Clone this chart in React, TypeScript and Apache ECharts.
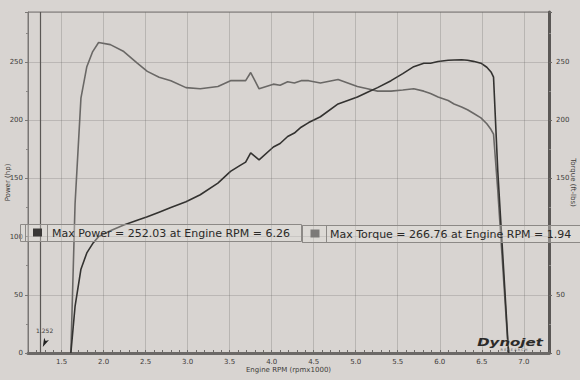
import React, { useEffect, useRef } from "react";
import * as echarts from "echarts";

// Engine RPM (x1000)
const rpm = [
  1.61, 1.66, 1.73, 1.8, 1.87, 1.94, 2.08, 2.24, 2.4, 2.52, 2.66, 2.8, 2.98, 3.15, 3.36, 3.51, 3.62,
  3.69, 3.75, 3.8, 3.85, 4.02, 4.1, 4.19, 4.27, 4.35, 4.44, 4.58, 4.79, 5.02, 5.14, 5.26, 5.42, 5.56,
  5.69, 5.81, 5.89, 5.98, 6.1, 6.17, 6.26, 6.33, 6.4, 6.49, 6.56, 6.61, 6.64, 6.69, 6.81, 6.82,
];
// Power (hp)
const powerHp = [
  0, 40, 72, 86, 94, 100, 105, 110, 114, 117, 121, 125, 130, 136, 146, 156, 161,
  164, 172, 169, 166, 177, 180, 186, 189, 194, 198, 203, 214, 220, 224, 228, 234, 240,
  246, 249, 249, 250.5, 251.5, 251.8, 252.03, 251.6, 250.6, 249, 245.5, 241.5, 237, 157, 11, 0,
];
// Torque (ft-lbs)
const torqueFtLb = [
  0, 128, 219, 246, 259, 266.76, 265, 259, 249, 242, 237, 234, 228, 227, 229, 234, 234,
  234, 241, 234, 227, 231, 230, 233, 232, 234, 234, 232, 235, 229, 227, 225, 225, 226,
  227, 225, 223, 220, 217, 214, 211.4, 209, 206, 202, 197, 192, 188, 140, 8, 0,
];
const xTickLabels = [1.5, 2.0, 2.5, 3.0, 3.5, 4.0, 4.5, 5.0, 5.5, 6.0, 6.5, 7.0];
const cursorRpm = 1.252;
const maxPowerText = "Max Power = 252.03 at Engine RPM = 6.26";
const maxTorqueText = "Max Torque = 266.76 at Engine RPM = 1.94";
// right-axis tick hidden behind the torque legend box in the reference
const hiddenRightTicks = [100];

export default function App() {
  const ref = useRef<HTMLDivElement>(null);
  useEffect(() => {
    if (!ref.current) return;
    const chart = echarts.init(ref.current, undefined, { renderer: "svg" });
    const font = "DejaVu Sans";
    const labelColor = "#3e3c3a";
    const isHalf = (v: number) => Math.abs(v * 2 - Math.round(v * 2)) < 1e-6;
    chart.setOption({
      animation: false,
      backgroundColor: "#d8d4d1",
      textStyle: { fontFamily: font },
      grid: {
        left: 28,
        right: 31,
        top: 12,
        bottom: 27,
        containLabel: false,
        outerBoundsMode: "none",
        show: true,
        borderColor: "#7a7775",
        borderWidth: 1,
        backgroundColor: "transparent",
      },
      xAxis: {
        type: "value",
        min: 1.1,
        max: 7.3,
        interval: 0.1,
        axisLine: { show: true, onZero: false, lineStyle: { color: "#6c6967", width: 3 } },
        axisTick: { show: true, inside: true, length: 3, lineStyle: { color: "#6c6967" } },
        axisLabel: {
          fontSize: 7,
          color: labelColor,
          margin: 5,
          formatter: (v: number) => (isHalf(v) ? v.toFixed(1) : ""),
        },
        splitLine: { show: false },
        name: "Engine RPM (rpmx1000)",
        nameLocation: "middle",
        nameGap: 13,
        nameMoveOverlap: false,
        nameTextStyle: { fontSize: 7, color: labelColor },
      },
      yAxis: [
        {
          type: "value",
          min: 0,
          max: 293,
          interval: 50,
          position: "left",
          axisLine: { show: true, lineStyle: { color: "#7a7775", width: 1 } },
          axisTick: { show: true, inside: false, length: 3, lineStyle: { color: "#7a7775" } },
          minorTick: { show: true, splitNumber: 2, length: 2, lineStyle: { color: "#8a8785" } },
          axisLabel: { fontSize: 7, color: labelColor, margin: 5, showMaxLabel: false },
          splitLine: { show: true, lineStyle: { color: "rgba(110,108,106,0.28)", width: 1 } },
          name: "Power (hp)",
          nameLocation: "middle",
          nameGap: 17,
          nameRotate: 90,
          nameMoveOverlap: false,
          nameTextStyle: { fontSize: 7, color: labelColor },
        },
        {
          type: "value",
          min: 0,
          max: 293,
          interval: 50,
          position: "right",
          axisLine: { show: true, lineStyle: { color: "#5a5755", width: 3 } },
          axisTick: { show: true, inside: false, length: 3, lineStyle: { color: "#6a6765" } },
          minorTick: { show: true, splitNumber: 2, length: 2, lineStyle: { color: "#8a8785" } },
          axisLabel: {
            fontSize: 7,
            color: labelColor,
            margin: 7,
            showMaxLabel: false,
            formatter: (v: number) => (hiddenRightTicks.includes(v) ? "" : String(v)),
          },
          splitLine: { show: false },
          name: "Torque (ft-lbs)",
          nameLocation: "middle",
          nameGap: 20,
          nameRotate: -90,
          nameMoveOverlap: false,
          nameTextStyle: { fontSize: 7, color: labelColor },
        },
      ],
      series: [
        {
          name: "Power",
          type: "line",
          yAxisIndex: 0,
          showSymbol: false,
          z: 3,
          lineStyle: { color: "#333230", width: 1.6 },
          data: rpm.map((r, i) => [r, powerHp[i]]),
          markLine: {
            silent: true,
            symbol: "none",
            label: { show: false },
            data: [
              ...xTickLabels.map((v) => ({
                xAxis: v,
                lineStyle: { color: "rgba(110,108,106,0.3)", width: 1, type: "solid" },
              })),
              { xAxis: cursorRpm, lineStyle: { color: "#5a5755", width: 1.2, type: "solid" } },
            ],
          },
          markPoint: {
            silent: true,
            data: [
              {
                coord: [cursorRpm, 0],
                symbol: "arrow",
                symbolSize: [4, 9],
                symbolRotate: 155,
                symbolOffset: [2, -6],
                itemStyle: { color: "#222" },
                label: {
                  show: true,
                  position: "top",
                  distance: 4,
                  formatter: String(cursorRpm),
                  fontSize: 6,
                  color: labelColor,
                },
              },
            ],
          },
        },
        {
          name: "Torque",
          type: "line",
          yAxisIndex: 1,
          showSymbol: false,
          z: 2,
          lineStyle: { color: "#6a6866", width: 1.6 },
          data: rpm.map((r, i) => [r, torqueFtLb[i]]),
        },
      ],
      graphic: [
        // Legend box: power
        {
          type: "rect",
          shape: { x: 20.5, y: 224.5, width: 281, height: 17 },
          style: { fill: "rgba(228,225,222,0.35)", stroke: "#8c8986", lineWidth: 1 },
          z: 10,
        },
        {
          type: "rect",
          shape: { x: 25.5, y: 224.5, width: 22, height: 17 },
          style: { fill: "transparent", stroke: "#8c8986", lineWidth: 1 },
          z: 10,
        },
        {
          type: "rect",
          shape: { x: 33, y: 228.5, width: 9, height: 8 },
          style: { fill: "#3a3837" },
          z: 11,
        },
        {
          type: "text",
          x: 52,
          y: 233,
          style: {
            text: maxPowerText,
            fontFamily: font,
            fontSize: 11,
            fill: "#2a2928",
            verticalAlign: "middle",
            align: "left",
          },
          z: 11,
        },
        // Legend box: torque
        {
          type: "rect",
          shape: { x: 302.5, y: 225.5, width: 300, height: 17 },
          style: { fill: "rgba(228,225,222,0.35)", stroke: "#8c8986", lineWidth: 1 },
          z: 10,
        },
        {
          type: "rect",
          shape: { x: 302.5, y: 225.5, width: 24, height: 17 },
          style: { fill: "transparent", stroke: "#8c8986", lineWidth: 1 },
          z: 10,
        },
        {
          type: "rect",
          shape: { x: 310.5, y: 229.5, width: 9, height: 8 },
          style: { fill: "#7c7a78" },
          z: 11,
        },
        {
          type: "text",
          x: 330,
          y: 234,
          style: {
            text: maxTorqueText,
            fontFamily: font,
            fontSize: 11,
            fill: "#2a2928",
            verticalAlign: "middle",
            align: "left",
          },
          z: 11,
        },
        // Dynojet logo
        {
          type: "text",
          x: 510,
          y: 342,
          scaleX: 1.5,
          style: {
            text: "Dynojet",
            fontFamily: font,
            fontSize: 10,
            fontWeight: "bold",
            fontStyle: "italic",
            fill: "#2b2a29",
            stroke: "#cfcbc8",
            lineWidth: 0.5,
            align: "center",
            verticalAlign: "middle",
          },
          z: 12,
        },
        {
          type: "text",
          x: 514,
          y: 350,
          style: {
            text: "R E S E A R C H",
            fontFamily: font,
            fontSize: 3.5,
            fill: "#555",
            align: "center",
            verticalAlign: "middle",
          },
          z: 12,
        },
      ],
    });
    return () => chart.dispose();
  }, []);
  return <div ref={ref} style={{ width: 580, height: 380, position: "absolute", left: 0, top: 0 }} />;
}
